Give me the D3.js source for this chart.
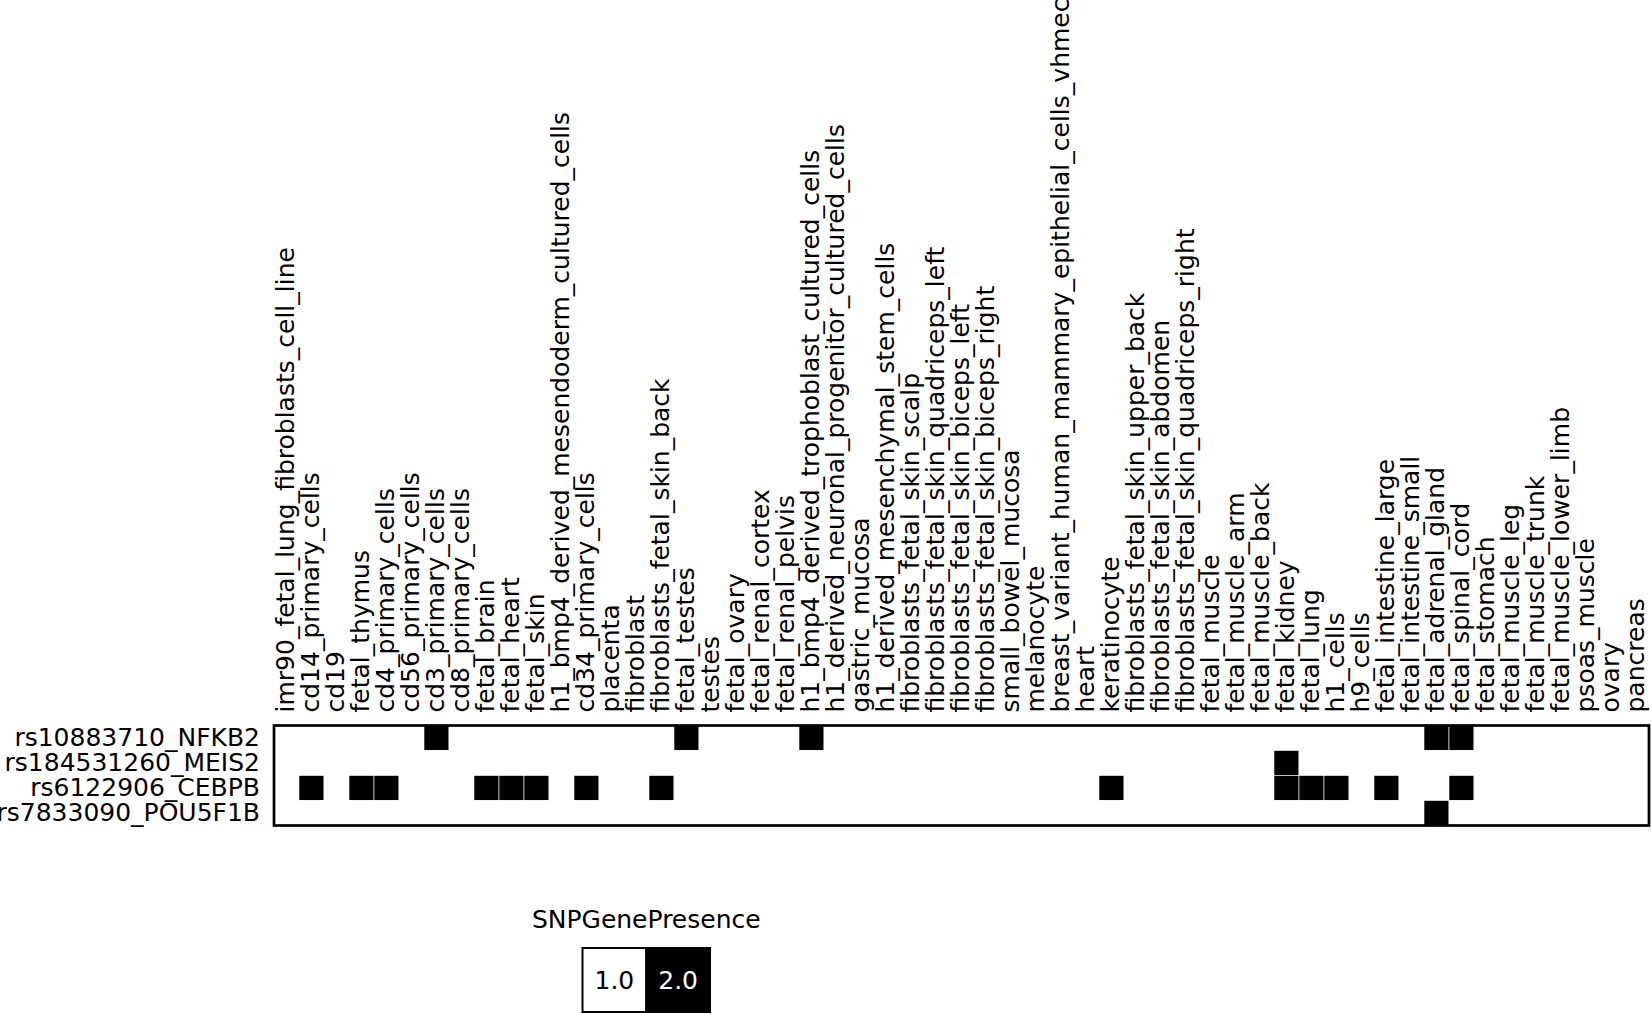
<!DOCTYPE html>
<html>
<head>
<meta charset="utf-8">
<script src="https://cdn.jsdelivr.net/npm/d3@7"></script>
<style>
  html, body { margin: 0; padding: 0; background: #fff; overflow: hidden; }
  svg { display: block; }
  text { font-family: "DejaVu Sans", sans-serif; font-size: 25px; fill: #000; }
</style>
</head>
<body>
<div id="chart"></div>
<script>
// Binary SNP / cell-type presence heatmap, drawn with D3 v7.

const cellTypes = [
  "imr90_fetal_lung_fibroblasts_cell_line", "cd14_primary_cells", "cd19", "fetal_thymus",
  "cd4_primary_cells", "cd56_primary_cells", "cd3_primary_cells", "cd8_primary_cells",
  "fetal_brain", "fetal_heart", "fetal_skin", "h1_bmp4_derived_mesendoderm_cultured_cells",
  "cd34_primary_cells", "placenta", "fibroblast", "fibroblasts_fetal_skin_back",
  "fetal_testes", "testes", "fetal_ovary", "fetal_renal_cortex", "fetal_renal_pelvis",
  "h1_bmp4_derived_trophoblast_cultured_cells", "h1_derived_neuronal_progenitor_cultured_cells",
  "gastric_mucosa", "h1_derived_mesenchymal_stem_cells", "fibroblasts_fetal_skin_scalp",
  "fibroblasts_fetal_skin_quadriceps_left", "fibroblasts_fetal_skin_biceps_left",
  "fibroblasts_fetal_skin_biceps_right", "small_bowel_mucosa", "melanocyte",
  "breast_variant_human_mammary_epithelial_cells_vhmec", "heart", "keratinocyte",
  "fibroblasts_fetal_skin_upper_back", "fibroblasts_fetal_skin_abdomen",
  "fibroblasts_fetal_skin_quadriceps_right", "fetal_muscle", "fetal_muscle_arm",
  "fetal_muscle_back", "fetal_kidney", "fetal_lung", "h1_cells", "h9_cells",
  "fetal_intestine_large", "fetal_intestine_small", "fetal_adrenal_gland",
  "fetal_spinal_cord", "fetal_stomach", "fetal_muscle_leg", "fetal_muscle_trunk",
  "fetal_muscle_lower_limb", "psoas_muscle", "ovary", "pancreas"
];

const snps = ["rs10883710_NFKB2", "rs184531260_MEIS2", "rs6122906_CEBPB", "rs7833090_POU5F1B"];

// cell types where each SNP is present (value 2.0); every other cell is 1.0
const presentNFKB2 = ["cd3_primary_cells", "fetal_testes", "h1_bmp4_derived_trophoblast_cultured_cells",
  "fetal_adrenal_gland", "fetal_spinal_cord"];
const presentMEIS2 = ["fetal_kidney"];
const presentCEBPB = ["cd14_primary_cells", "fetal_thymus", "cd4_primary_cells", "fetal_brain",
  "fetal_heart", "fetal_skin", "cd34_primary_cells", "fibroblasts_fetal_skin_back", "keratinocyte",
  "fetal_kidney", "fetal_lung", "h1_cells", "fetal_intestine_large", "fetal_spinal_cord"];
const presentPOU5F1B = ["fetal_adrenal_gland"];

const legendValues = ["1.0", "2.0"];
const legendTitle = "SNPGenePresence";

const presence = [presentNFKB2, presentMEIS2, presentCEBPB, presentPOU5F1B];

const width = 1651;
const height = 1014;
const cell = 25;
const x0 = 274;
const y0 = 725.5;
const fontSize = "25px";

const svg = d3.select("#chart")
  .append("svg")
  .attr("width", width)
  .attr("height", height)
  .attr("viewBox", `0 0 ${width} ${height}`);

const xScale = d3.scaleBand()
  .domain(cellTypes)
  .range([x0, x0 + cell * cellTypes.length]);

const yScale = d3.scaleBand()
  .domain(snps)
  .range([y0, y0 + cell * snps.length]);

const color = d3.scaleOrdinal()
  .domain(legendValues)
  .range(["#ffffff", "#000000"]);

// one record per grid cell
const cells = [];
snps.forEach((snp, i) => {
  cellTypes.forEach(ct => {
    cells.push({ snp: snp, cellType: ct, value: presence[i].includes(ct) ? "2.0" : "1.0" });
  });
});

svg.append("g")
  .selectAll("rect")
  .data(cells)
  .join("rect")
  .attr("x", d => xScale(d.cellType))
  .attr("y", d => yScale(d.snp))
  .attr("width", xScale.bandwidth())
  .attr("height", yScale.bandwidth())
  .attr("fill", d => color(d.value))
  .attr("stroke", "#fff")
  .attr("stroke-width", 0.6);

// frame round the heatmap
svg.append("rect")
  .attr("x", x0)
  .attr("y", y0)
  .attr("width", xScale.range()[1] - x0)
  .attr("height", yScale.range()[1] - y0)
  .attr("fill", "none")
  .attr("stroke", "#000")
  .attr("stroke-width", 2.7);

// column labels, rotated
const xAxis = svg.append("g")
  .attr("transform", `translate(0, ${y0})`)
  .call(d3.axisTop(xScale).tickSize(0));
xAxis.select(".domain").remove();
xAxis.selectAll("text")
  .attr("transform", "rotate(-90)")
  .attr("x", 13)
  .attr("y", 0)
  .attr("dy", "0.3em")
  .style("text-anchor", "start")
  .style("font-size", fontSize)
  .style("font-family", "DejaVu Sans");

// row labels
const yAxis = svg.append("g")
  .attr("transform", `translate(${x0}, 0)`)
  .call(d3.axisLeft(yScale).tickSize(0).tickPadding(14));
yAxis.select(".domain").remove();
yAxis.selectAll("text")
  .style("font-size", fontSize)
  .style("font-family", "DejaVu Sans");

// legend
const legendX = d3.scaleBand()
  .domain(legendValues)
  .range([582.5, 710]);

svg.append("text")
  .attr("x", (legendX.range()[0] + legendX.range()[1]) / 2)
  .attr("y", 928)
  .attr("text-anchor", "middle")
  .text(legendTitle);

const legend = svg.append("g");
legend.selectAll("rect")
  .data(legendValues)
  .join("rect")
  .attr("x", d => legendX(d))
  .attr("y", 948)
  .attr("width", legendX.bandwidth())
  .attr("height", 64)
  .attr("fill", d => color(d))
  .attr("stroke", "#000")
  .attr("stroke-width", 2);

legend.selectAll("text")
  .data(legendValues)
  .join("text")
  .attr("x", d => legendX(d) + legendX.bandwidth() / 2)
  .attr("y", 980)
  .attr("dy", "0.35em")
  .attr("text-anchor", "middle")
  .style("fill", d => d === "2.0" ? "#fff" : "#000")
  .text(d => d);
</script>
</body>
</html>
